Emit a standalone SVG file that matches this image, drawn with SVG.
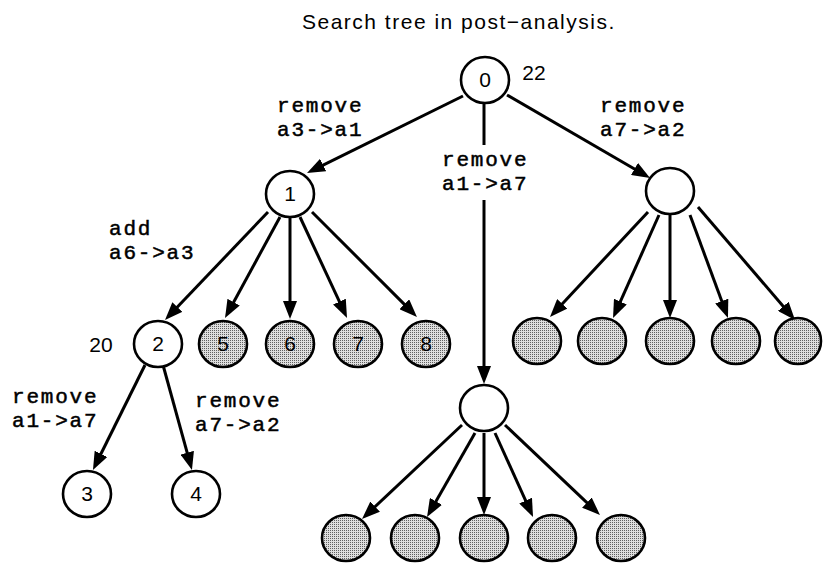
<svg xmlns="http://www.w3.org/2000/svg" width="823" height="564" viewBox="0 0 823 564">
<style>
.n{fill:#fff;stroke:#000;stroke-width:2.6}
.g{fill:url(#dots);stroke:#000;stroke-width:2.6}
.num{font-family:"Liberation Sans",Arial,sans-serif;font-size:21px;text-anchor:middle;fill:#000}
.lbl{font-family:"Liberation Mono","Courier New",monospace;font-size:21px;letter-spacing:1.8px;fill:#000;stroke:#000;stroke-width:0.5}
.title{font-family:"Liberation Sans",Arial,sans-serif;font-size:21px;letter-spacing:1.5px;fill:#000}
.c line{stroke:#000;stroke-width:3;fill:none}
.c line.a{marker-end:url(#ah)}
</style>
<defs>
<pattern id="dots" width="2" height="2" patternUnits="userSpaceOnUse">
<rect width="2" height="2" fill="#dedede"/>
<rect width="1" height="1" fill="#606060"/>
</pattern>
<marker id="ah" markerUnits="userSpaceOnUse" markerWidth="18" markerHeight="14" viewBox="0 0 18 14" refX="8" refY="7" orient="auto">
<path d="M0,0 L18,7 L0,14 z" fill="#000"/>
</marker>
</defs>

<text class="title" x="302" y="29">Search tree in post−analysis.</text>

<g class="c" id="connectors">
<line class="a" x1="463" y1="96" x2="316" y2="168.6"/>
<line class="a" x1="507" y1="95" x2="641.4" y2="173"/>
<line x1="484" y1="103" x2="484" y2="145"/>
<line class="a" x1="484" y1="200" x2="484" y2="374"/>
<line class="a" x1="268" y1="212" x2="171.9" y2="312.8"/>
<line class="a" x1="280" y1="217" x2="229.8" y2="309.2"/>
<line class="a" x1="290" y1="217" x2="290" y2="309"/>
<line class="a" x1="300" y1="217" x2="342.8" y2="308.9"/>
<line class="a" x1="312" y1="212" x2="409.9" y2="309.9"/>
<line class="a" x1="145" y1="365" x2="97.4" y2="461"/>
<line class="a" x1="163" y1="365" x2="189.3" y2="460.4"/>
<line class="a" x1="648" y1="212" x2="556.8" y2="309.7"/>
<line class="a" x1="659" y1="215" x2="617.1" y2="308.9"/>
<line class="a" x1="670" y1="215" x2="670" y2="308"/>
<line class="a" x1="690" y1="215" x2="724.5" y2="308.6"/>
<line class="a" x1="698" y1="207" x2="788.5" y2="312.4"/>
<line class="a" x1="462" y1="425" x2="369.3" y2="512.1"/>
<line class="a" x1="475" y1="433" x2="432" y2="508.3"/>
<line class="a" x1="484" y1="433" x2="484" y2="505"/>
<line class="a" x1="495" y1="433" x2="528.9" y2="507.9"/>
<line class="a" x1="505" y1="425" x2="592.7" y2="508.1"/>
</g>

<g id="labels">
<text class="lbl" x="277" y="112">remove<tspan x="277" dy="24">a3-&gt;a1</tspan></text>
<text class="lbl" x="600" y="112">remove<tspan x="600" dy="24">a7-&gt;a2</tspan></text>
<text class="lbl" x="442" y="166">remove<tspan x="442" dy="24">a1-&gt;a7</tspan></text>
<text class="lbl" x="109" y="235">add<tspan x="109" dy="24">a6-&gt;a3</tspan></text>
<text class="lbl" x="12" y="403">remove<tspan x="12" dy="24">a1-&gt;a7</tspan></text>
<text class="lbl" x="195" y="407">remove<tspan x="195" dy="24">a7-&gt;a2</tspan></text>
<text class="num" x="534" y="80">22</text>
<text class="num" x="101" y="352">20</text>
</g>

<g id="node0"><ellipse class="n" cx="485" cy="80" rx="24" ry="23"/><text class="num" x="485" y="87">0</text></g>
<g id="node1"><ellipse class="n" cx="290" cy="194" rx="24" ry="23"/><text class="num" x="290" y="201">1</text></g>
<g id="nodeR"><ellipse class="n" cx="670" cy="191" rx="24" ry="23"/></g>
<g id="nodeM"><ellipse class="n" cx="484" cy="408" rx="24" ry="23"/></g>
<g id="node2"><ellipse class="n" cx="158" cy="344" rx="24" ry="23"/><text class="num" x="158" y="351">2</text></g>
<g id="node5"><ellipse class="g" cx="223" cy="344" rx="24" ry="23"/><text class="num" x="223" y="351">5</text></g>
<g id="node6"><ellipse class="g" cx="290" cy="344" rx="24" ry="23"/><text class="num" x="290" y="351">6</text></g>
<g id="node7"><ellipse class="g" cx="358" cy="344" rx="24" ry="23"/><text class="num" x="358" y="351">7</text></g>
<g id="node8"><ellipse class="g" cx="426" cy="344" rx="24" ry="23"/><text class="num" x="426" y="351">8</text></g>
<g id="node3"><ellipse class="n" cx="87" cy="494" rx="24" ry="23"/><text class="num" x="87" y="501">3</text></g>
<g id="node4"><ellipse class="n" cx="196" cy="494" rx="24" ry="23"/><text class="num" x="196" y="501">4</text></g>
<g id="r1"><ellipse class="g" cx="537" cy="341" rx="24" ry="23"/></g>
<g id="r2"><ellipse class="g" cx="602" cy="341" rx="24" ry="23"/></g>
<g id="r3"><ellipse class="g" cx="670" cy="341" rx="24" ry="23"/></g>
<g id="r4"><ellipse class="g" cx="736" cy="341" rx="24" ry="23"/></g>
<g id="r5"><ellipse class="g" cx="798" cy="341" rx="23" ry="23"/></g>
<g id="b1"><ellipse class="g" cx="346" cy="538" rx="24" ry="23"/></g>
<g id="b2"><ellipse class="g" cx="415" cy="538" rx="24" ry="23"/></g>
<g id="b3"><ellipse class="g" cx="484" cy="538" rx="24" ry="23"/></g>
<g id="b4"><ellipse class="g" cx="552" cy="538" rx="24" ry="23"/></g>
<g id="b5"><ellipse class="g" cx="621" cy="538" rx="24" ry="23"/></g>
</svg>
